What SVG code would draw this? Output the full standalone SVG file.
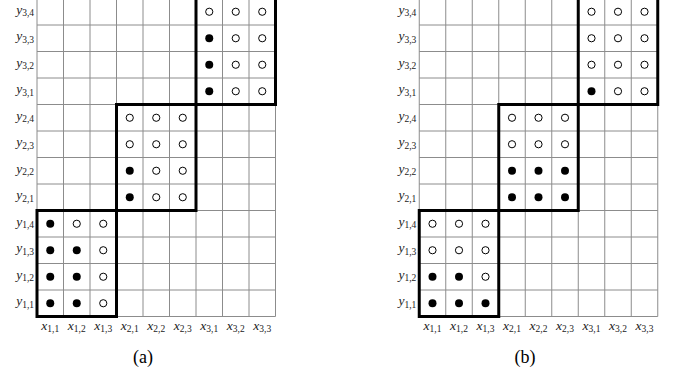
<svg xmlns="http://www.w3.org/2000/svg" width="673" height="379" viewBox="0 0 673 379">
<style>
.grid{stroke:#8c8c8c;stroke-width:1;fill:none}
.blk{stroke:#000;stroke-width:3;fill:none}
.f{fill:#000}
.o{fill:#fff;stroke:#000;stroke-width:1}
text{font-family:'Liberation Serif','Times New Roman',serif}
.lab{font-size:13.5px;fill:#222}
.v{font-style:italic}
.s{font-size:9.5px;font-style:normal}
.cap{font-size:18px;fill:#000}
</style>
<defs>
<path id="gridlines" class="grid" d="M37,-1.5V316.5M63.5,-1.5V316.5M90,-1.5V316.5M116.5,-1.5V316.5M143,-1.5V316.5M169.5,-1.5V316.5M196,-1.5V316.5M222.5,-1.5V316.5M249,-1.5V316.5M275.5,-1.5V316.5M37,-1.5H275.5M37,25H275.5M37,51.5H275.5M37,78H275.5M37,104.5H275.5M37,131H275.5M37,157.5H275.5M37,184H275.5M37,210.5H275.5M37,237H275.5M37,263.5H275.5M37,290H275.5M37,316.5H275.5"/>
<g id="blocks">
<rect class="blk" x="37" y="210.5" width="79.5" height="106"/>
<rect class="blk" x="116.5" y="104.5" width="79.5" height="106"/>
<rect class="blk" x="196" y="-1.5" width="79.5" height="106"/>
</g>
</defs>

<g id="panel-a">
<use href="#gridlines"/>
<g id="a-labels" class="lab">
<text x="34" y="305.25" text-anchor="end"><tspan class="v">y</tspan><tspan class="s" dy="2.5">1,1</tspan></text>
<text x="34" y="278.75" text-anchor="end"><tspan class="v">y</tspan><tspan class="s" dy="2.5">1,2</tspan></text>
<text x="34" y="252.25" text-anchor="end"><tspan class="v">y</tspan><tspan class="s" dy="2.5">1,3</tspan></text>
<text x="34" y="225.75" text-anchor="end"><tspan class="v">y</tspan><tspan class="s" dy="2.5">1,4</tspan></text>
<text x="34" y="199.25" text-anchor="end"><tspan class="v">y</tspan><tspan class="s" dy="2.5">2,1</tspan></text>
<text x="34" y="172.75" text-anchor="end"><tspan class="v">y</tspan><tspan class="s" dy="2.5">2,2</tspan></text>
<text x="34" y="146.25" text-anchor="end"><tspan class="v">y</tspan><tspan class="s" dy="2.5">2,3</tspan></text>
<text x="34" y="119.75" text-anchor="end"><tspan class="v">y</tspan><tspan class="s" dy="2.5">2,4</tspan></text>
<text x="34" y="93.25" text-anchor="end"><tspan class="v">y</tspan><tspan class="s" dy="2.5">3,1</tspan></text>
<text x="34" y="66.75" text-anchor="end"><tspan class="v">y</tspan><tspan class="s" dy="2.5">3,2</tspan></text>
<text x="34" y="40.25" text-anchor="end"><tspan class="v">y</tspan><tspan class="s" dy="2.5">3,3</tspan></text>
<text x="34" y="13.75" text-anchor="end"><tspan class="v">y</tspan><tspan class="s" dy="2.5">3,4</tspan></text>
<text x="50.25" y="329.5" text-anchor="middle"><tspan class="v">x</tspan><tspan class="s" dy="2.5">1,1</tspan></text>
<text x="76.75" y="329.5" text-anchor="middle"><tspan class="v">x</tspan><tspan class="s" dy="2.5">1,2</tspan></text>
<text x="103.25" y="329.5" text-anchor="middle"><tspan class="v">x</tspan><tspan class="s" dy="2.5">1,3</tspan></text>
<text x="129.75" y="329.5" text-anchor="middle"><tspan class="v">x</tspan><tspan class="s" dy="2.5">2,1</tspan></text>
<text x="156.25" y="329.5" text-anchor="middle"><tspan class="v">x</tspan><tspan class="s" dy="2.5">2,2</tspan></text>
<text x="182.75" y="329.5" text-anchor="middle"><tspan class="v">x</tspan><tspan class="s" dy="2.5">2,3</tspan></text>
<text x="209.25" y="329.5" text-anchor="middle"><tspan class="v">x</tspan><tspan class="s" dy="2.5">3,1</tspan></text>
<text x="235.75" y="329.5" text-anchor="middle"><tspan class="v">x</tspan><tspan class="s" dy="2.5">3,2</tspan></text>
<text x="262.25" y="329.5" text-anchor="middle"><tspan class="v">x</tspan><tspan class="s" dy="2.5">3,3</tspan></text>
</g>
<g id="a-dots">
<circle class="f" cx="50.25" cy="303.25" r="4"/><circle class="f" cx="76.75" cy="303.25" r="4"/><circle class="o" cx="103.25" cy="303.25" r="3.6"/>
<circle class="f" cx="50.25" cy="276.75" r="4"/><circle class="f" cx="76.75" cy="276.75" r="4"/><circle class="o" cx="103.25" cy="276.75" r="3.6"/>
<circle class="f" cx="50.25" cy="250.25" r="4"/><circle class="f" cx="76.75" cy="250.25" r="4"/><circle class="o" cx="103.25" cy="250.25" r="3.6"/>
<circle class="f" cx="50.25" cy="223.75" r="4"/><circle class="o" cx="76.75" cy="223.75" r="3.6"/><circle class="o" cx="103.25" cy="223.75" r="3.6"/>
<circle class="f" cx="129.75" cy="197.25" r="4"/><circle class="o" cx="156.25" cy="197.25" r="3.6"/><circle class="o" cx="182.75" cy="197.25" r="3.6"/>
<circle class="f" cx="129.75" cy="170.75" r="4"/><circle class="o" cx="156.25" cy="170.75" r="3.6"/><circle class="o" cx="182.75" cy="170.75" r="3.6"/>
<circle class="o" cx="129.75" cy="144.25" r="3.6"/><circle class="o" cx="156.25" cy="144.25" r="3.6"/><circle class="o" cx="182.75" cy="144.25" r="3.6"/>
<circle class="o" cx="129.75" cy="117.75" r="3.6"/><circle class="o" cx="156.25" cy="117.75" r="3.6"/><circle class="o" cx="182.75" cy="117.75" r="3.6"/>
<circle class="f" cx="209.25" cy="91.25" r="4"/><circle class="o" cx="235.75" cy="91.25" r="3.6"/><circle class="o" cx="262.25" cy="91.25" r="3.6"/>
<circle class="f" cx="209.25" cy="64.75" r="4"/><circle class="o" cx="235.75" cy="64.75" r="3.6"/><circle class="o" cx="262.25" cy="64.75" r="3.6"/>
<circle class="f" cx="209.25" cy="38.25" r="4"/><circle class="o" cx="235.75" cy="38.25" r="3.6"/><circle class="o" cx="262.25" cy="38.25" r="3.6"/>
<circle class="o" cx="209.25" cy="11.75" r="3.6"/><circle class="o" cx="235.75" cy="11.75" r="3.6"/><circle class="o" cx="262.25" cy="11.75" r="3.6"/>
</g>
<use href="#blocks"/>
<text class="cap" x="143" y="363" text-anchor="middle">(a)</text>
</g>

<g id="panel-b">
<g transform="translate(382.25,0)">
<use href="#gridlines"/>
<g id="b-labels" class="lab">
<text x="34" y="305.25" text-anchor="end"><tspan class="v">y</tspan><tspan class="s" dy="2.5">1,1</tspan></text>
<text x="34" y="278.75" text-anchor="end"><tspan class="v">y</tspan><tspan class="s" dy="2.5">1,2</tspan></text>
<text x="34" y="252.25" text-anchor="end"><tspan class="v">y</tspan><tspan class="s" dy="2.5">1,3</tspan></text>
<text x="34" y="225.75" text-anchor="end"><tspan class="v">y</tspan><tspan class="s" dy="2.5">1,4</tspan></text>
<text x="34" y="199.25" text-anchor="end"><tspan class="v">y</tspan><tspan class="s" dy="2.5">2,1</tspan></text>
<text x="34" y="172.75" text-anchor="end"><tspan class="v">y</tspan><tspan class="s" dy="2.5">2,2</tspan></text>
<text x="34" y="146.25" text-anchor="end"><tspan class="v">y</tspan><tspan class="s" dy="2.5">2,3</tspan></text>
<text x="34" y="119.75" text-anchor="end"><tspan class="v">y</tspan><tspan class="s" dy="2.5">2,4</tspan></text>
<text x="34" y="93.25" text-anchor="end"><tspan class="v">y</tspan><tspan class="s" dy="2.5">3,1</tspan></text>
<text x="34" y="66.75" text-anchor="end"><tspan class="v">y</tspan><tspan class="s" dy="2.5">3,2</tspan></text>
<text x="34" y="40.25" text-anchor="end"><tspan class="v">y</tspan><tspan class="s" dy="2.5">3,3</tspan></text>
<text x="34" y="13.75" text-anchor="end"><tspan class="v">y</tspan><tspan class="s" dy="2.5">3,4</tspan></text>
<text x="50.25" y="329.5" text-anchor="middle"><tspan class="v">x</tspan><tspan class="s" dy="2.5">1,1</tspan></text>
<text x="76.75" y="329.5" text-anchor="middle"><tspan class="v">x</tspan><tspan class="s" dy="2.5">1,2</tspan></text>
<text x="103.25" y="329.5" text-anchor="middle"><tspan class="v">x</tspan><tspan class="s" dy="2.5">1,3</tspan></text>
<text x="129.75" y="329.5" text-anchor="middle"><tspan class="v">x</tspan><tspan class="s" dy="2.5">2,1</tspan></text>
<text x="156.25" y="329.5" text-anchor="middle"><tspan class="v">x</tspan><tspan class="s" dy="2.5">2,2</tspan></text>
<text x="182.75" y="329.5" text-anchor="middle"><tspan class="v">x</tspan><tspan class="s" dy="2.5">2,3</tspan></text>
<text x="209.25" y="329.5" text-anchor="middle"><tspan class="v">x</tspan><tspan class="s" dy="2.5">3,1</tspan></text>
<text x="235.75" y="329.5" text-anchor="middle"><tspan class="v">x</tspan><tspan class="s" dy="2.5">3,2</tspan></text>
<text x="262.25" y="329.5" text-anchor="middle"><tspan class="v">x</tspan><tspan class="s" dy="2.5">3,3</tspan></text>
</g>
<g id="b-dots">
<circle class="f" cx="50.25" cy="303.25" r="4"/><circle class="f" cx="76.75" cy="303.25" r="4"/><circle class="f" cx="103.25" cy="303.25" r="4"/>
<circle class="f" cx="50.25" cy="276.75" r="4"/><circle class="f" cx="76.75" cy="276.75" r="4"/><circle class="o" cx="103.25" cy="276.75" r="3.6"/>
<circle class="o" cx="50.25" cy="250.25" r="3.6"/><circle class="o" cx="76.75" cy="250.25" r="3.6"/><circle class="o" cx="103.25" cy="250.25" r="3.6"/>
<circle class="o" cx="50.25" cy="223.75" r="3.6"/><circle class="o" cx="76.75" cy="223.75" r="3.6"/><circle class="o" cx="103.25" cy="223.75" r="3.6"/>
<circle class="f" cx="129.75" cy="197.25" r="4"/><circle class="f" cx="156.25" cy="197.25" r="4"/><circle class="f" cx="182.75" cy="197.25" r="4"/>
<circle class="f" cx="129.75" cy="170.75" r="4"/><circle class="f" cx="156.25" cy="170.75" r="4"/><circle class="f" cx="182.75" cy="170.75" r="4"/>
<circle class="o" cx="129.75" cy="144.25" r="3.6"/><circle class="o" cx="156.25" cy="144.25" r="3.6"/><circle class="o" cx="182.75" cy="144.25" r="3.6"/>
<circle class="o" cx="129.75" cy="117.75" r="3.6"/><circle class="o" cx="156.25" cy="117.75" r="3.6"/><circle class="o" cx="182.75" cy="117.75" r="3.6"/>
<circle class="f" cx="209.25" cy="91.25" r="4"/><circle class="o" cx="235.75" cy="91.25" r="3.6"/><circle class="o" cx="262.25" cy="91.25" r="3.6"/>
<circle class="o" cx="209.25" cy="64.75" r="3.6"/><circle class="o" cx="235.75" cy="64.75" r="3.6"/><circle class="o" cx="262.25" cy="64.75" r="3.6"/>
<circle class="o" cx="209.25" cy="38.25" r="3.6"/><circle class="o" cx="235.75" cy="38.25" r="3.6"/><circle class="o" cx="262.25" cy="38.25" r="3.6"/>
<circle class="o" cx="209.25" cy="11.75" r="3.6"/><circle class="o" cx="235.75" cy="11.75" r="3.6"/><circle class="o" cx="262.25" cy="11.75" r="3.6"/>
</g>
<use href="#blocks"/>
</g>
<text class="cap" x="525" y="363" text-anchor="middle">(b)</text>
</g>
</svg>
